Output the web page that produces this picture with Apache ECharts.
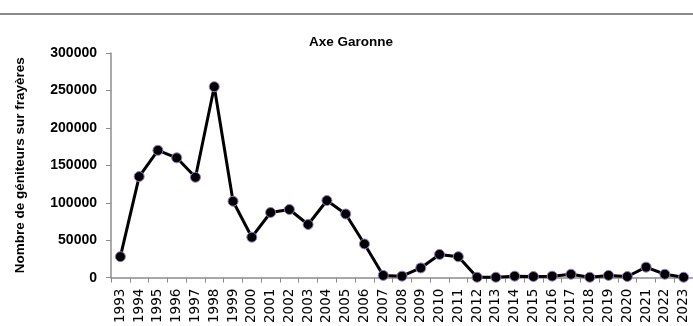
<!DOCTYPE html>
<html><head><meta charset="utf-8">
<script src="https://cdn.jsdelivr.net/npm/echarts@6/dist/echarts.min.js"></script>
<style>html,body{margin:0;padding:0;background:#fff;}#c{width:693px;height:326px;}</style>
</head><body><div id="c"></div>
<script>
var years = ['1993','1994','1995','1996','1997','1998','1999','2000','2001','2002','2003','2004','2005','2006','2007','2008','2009','2010','2011','2012','2013','2014','2015','2016','2017','2018','2019','2020','2021','2022','2023'];
var geniteurs = [28000,135000,170000,160000,134000,255000,102000,54000,87000,91000,71000,103000,85000,45000,3000,2000,13000,31000,28000,500,500,2000,1500,2000,4500,500,3000,1500,14000,4500,500];
var yTicks = [0,50000,100000,150000,200000,250000,300000];

var chart = echarts.init(document.getElementById('c'));
chart.setOption({
  animation:false,
  backgroundColor:'#fff',
  title:{text:'Axe Garonne', left:346, top:30, textAlign:'center',
    textStyle:{fontFamily:'Liberation Sans', fontWeight:'bold', fontSize:13.5, color:'#000'}},
  graphic:[{type:'line', shape:{x1:0,y1:14,x2:693,y2:14}, style:{stroke:'#8a8a8a', lineWidth:2}}],
  grid:{left:111, right:-5, top:53, bottom:48, containLabel:false},
  xAxis:{type:'category', data:years, boundaryGap:true,
    axisLine:{lineStyle:{color:'#8c8c8c', width:1.5}},
    axisTick:{show:true, length:5, alignWithLabel:false, lineStyle:{color:'#8c8c8c'}},
    axisLabel:{rotate:90, interval:0, margin:11, fontFamily:'DejaVu Sans', fontSize:13.5, color:'#000'}},
  yAxis:{type:'value', min:yTicks[0], max:yTicks[yTicks.length-1], interval:50000,
    name:'Nombre de géniteurs sur frayères', nameLocation:'middle', nameGap:84, nameRotate:90,
    nameTextStyle:{fontFamily:'Liberation Sans', fontWeight:'bold', fontSize:13.5, color:'#000'},
    axisLine:{show:true, lineStyle:{color:'#8c8c8c', width:1.5}},
    axisTick:{show:true, length:5, lineStyle:{color:'#8c8c8c'}},
    splitLine:{show:false},
    axisLabel:{margin:14, fontFamily:'Liberation Sans', fontWeight:'bold', fontSize:14, color:'#000',
      formatter:function(v){return String(v);}}},
  series:[{type:'line', data:geniteurs, symbol:'circle', symbolSize:10,
    lineStyle:{color:'#000', width:3},
    itemStyle:{color:'#000', borderColor:'#9a7cc4', borderWidth:1}}]
});
</script></body></html>
